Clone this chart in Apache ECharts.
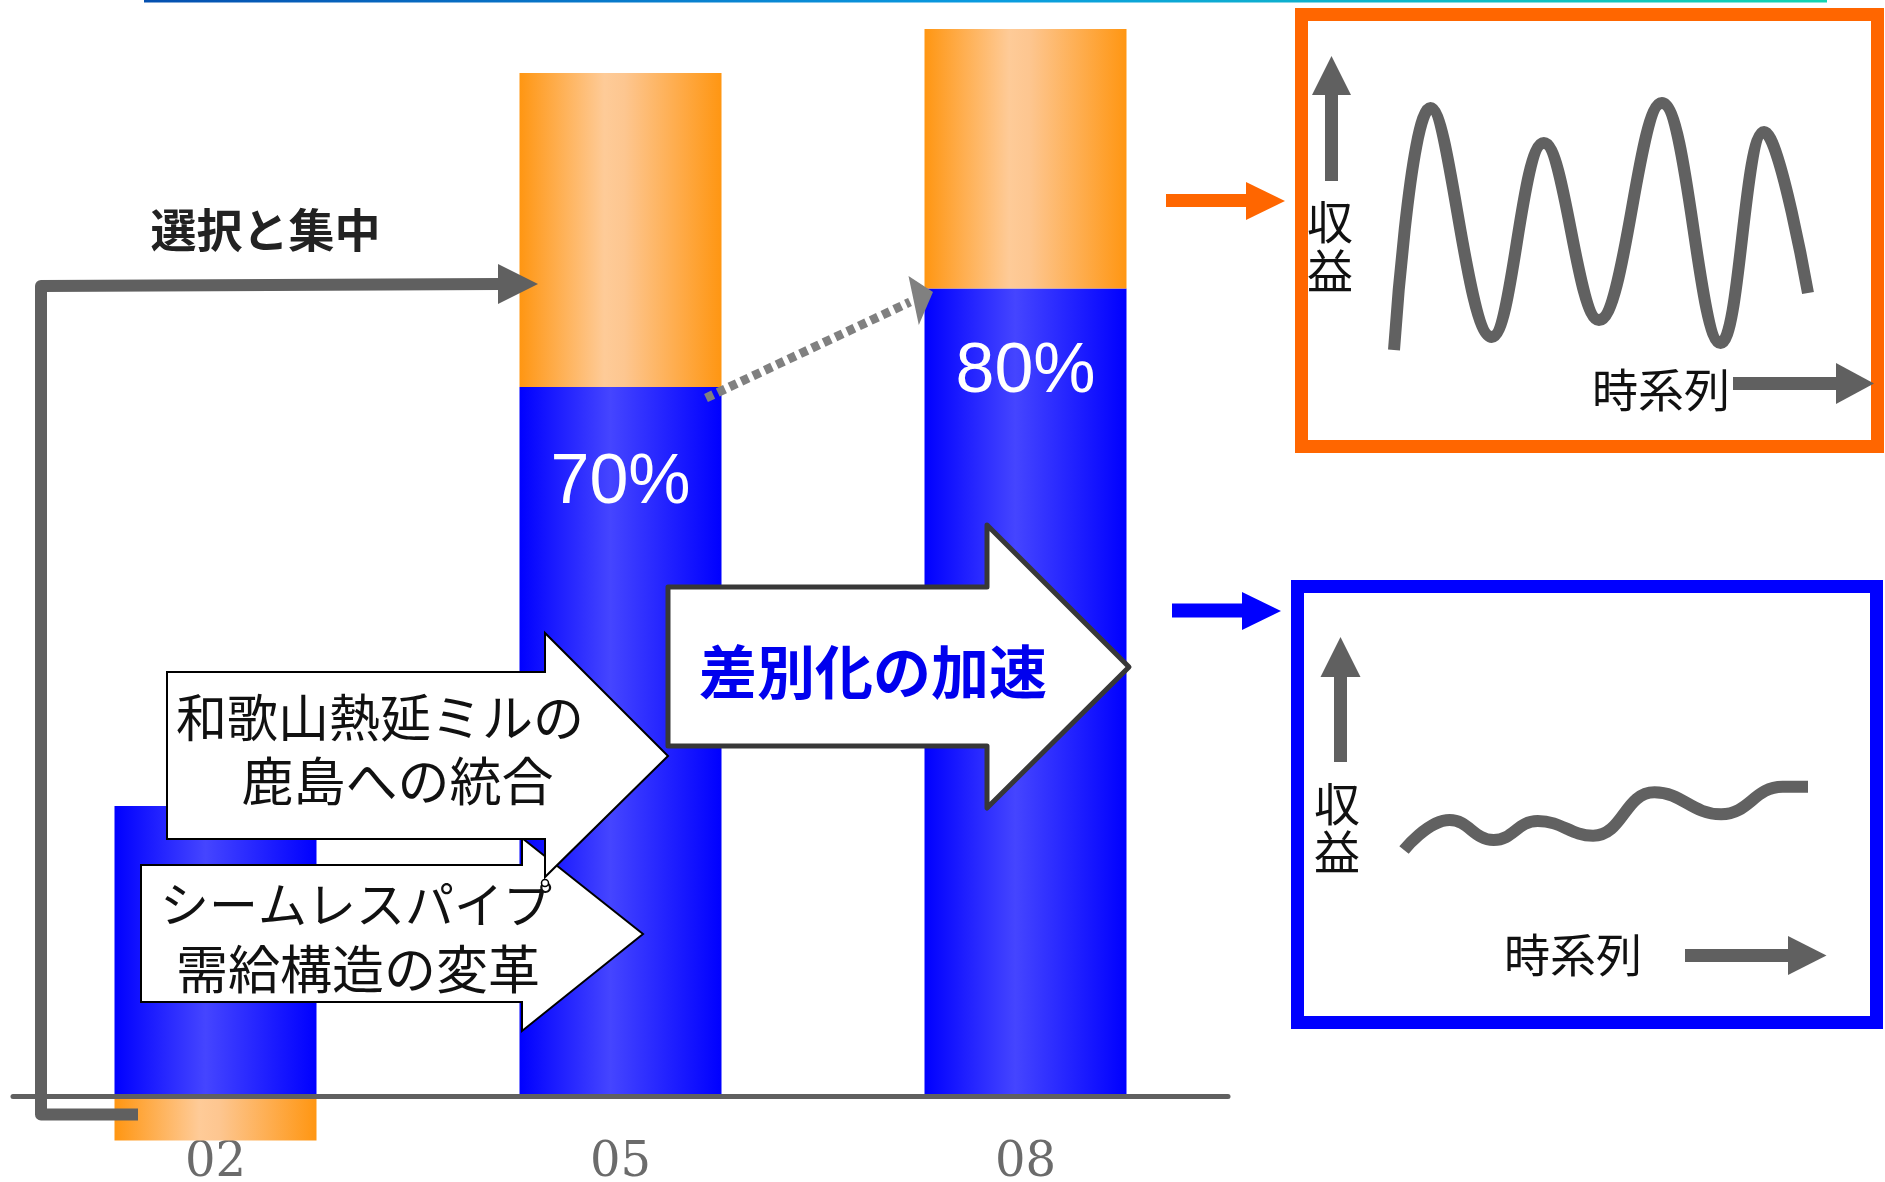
<!DOCTYPE html>
<html><head><meta charset="utf-8">
<script src="https://cdn.jsdelivr.net/npm/echarts/dist/echarts.min.js"></script>
<style>html,body{margin:0;padding:0;background:#fff}#c{width:1885px;height:1182px}</style>
</head><body><div id="c"></div>
<script>
// ---- data ----
const categories = ['02', '05', '08'];
const blueShare = [29.0, 70.9, 80.75];
const orangeShare = [-4.45, 31.4, 25.95];
const pctLabels = ['', '70%', '80%'];
// volatile profit over time (top panel), [time, profit]
const volatileProfit = [[0,0],[8.8,98.0],[23.6,5.3],[36.2,83.8],[49.5,12.1],[64.7,100],[78.9,2.8],[89.4,88.3],[100,23.1]];
// stable profit over time (bottom panel)
const stableProfit = [[0,0],[11.3,46.9],[22.2,15.6],[33.1,45.3],[46.8,22.3],[62.0,90.2],[78.5,55.8],[93.7,98.9],[100,98.9]];

// ---- chart ----
const chart = echarts.init(document.getElementById('c'), null, {renderer: 'canvas'});
const G = echarts.graphic.LinearGradient;
const blueGrad = new G(0,0,1,0,[{offset:0,color:'#0000ff'},{offset:0.45,color:'#4545ff'},{offset:1,color:'#0000ff'}]);
const orangeGrad = new G(0,0,1,0,[{offset:0,color:'#ff9612'},{offset:0.42,color:'#fecb98'},{offset:0.52,color:'#fdc690'},{offset:1,color:'#ff9612'}]);
const labelOffsets = [0, 97, 84];

const CJK = '"Noto Sans CJK JP", sans-serif';
function txt(t, x, y, size, opts) {
  opts = opts || {};
  return {type:'text', x:x, y:y, z:20, style:{text:t, fontSize:size, fontFamily:CJK, fontWeight:opts.bold?'bold':'normal',
    fill:opts.color||'#111', align:'center', verticalAlign:'middle', textAlign:'center', textVerticalAlign:'middle'}};
}
function poly(pts, fill, stroke, lw, extra) {
  return Object.assign({type:'polygon', z:20, shape:{points:pts}, style:{fill:fill, stroke:stroke||null, lineWidth:lw||0, lineJoin:'miter'}}, extra||{});
}
function rect(x,y,w,h,fill){ return {type:'rect', z:20, shape:{x:x,y:y,width:w,height:h}, style:{fill:fill}}; }

const graphics = [
  rect(144, 0, 1683, 2.5, new G(0,0,1,0,[{offset:0,color:'#0550b0'},{offset:0.5,color:'#0a9be0'},{offset:1,color:'#14d4b0'}])),
  {type:'polyline', z:20, shape:{points:[[138,1114.5],[41,1114.5],[41,286],[500,284]]}, style:{stroke:'#606060', lineWidth:12, lineJoin:'round', fill:null}},
  poly([[498,264],[538,284],[498,304]], '#606060'),
  {type:'line', z:20, shape:{x1:706,y1:398,x2:910,y2:302}, style:{stroke:'#808080', lineWidth:9, lineDash:[8,5]}},
  poly([[908.5,276],[933,292],[918.8,325]], '#808080'),
  poly([[141,865],[522,865],[522,838],[643,934],[522,1031],[522,1002],[141,1002]], '#ffffff', '#000', 2),
  txt('シームレスパイプ', 356, 904, 49),
  txt('需給構造の変革', 358, 969, 52),
  poly([[167,672],[545,672],[545,633],[668,756],[545,877],[545,839],[167,839]], '#ffffff', '#000', 2),
  txt('和歌山熱延ミルの', 380, 718, 51),
  txt('鹿島への統合', 397.5, 781, 52),
  {type:'circle', z:20, shape:{cx:545, cy:883, r:3.5}, style:{fill:'#fff', stroke:'#000', lineWidth:1.5}},
  poly([[668,587],[987,587],[987,525],[1129,667],[987,808],[987,746],[668,746]], '#ffffff', '#383838', 5, {style:{fill:'#fff', stroke:'#383838', lineWidth:5, lineJoin:'round'}}),
  txt('差別化の加速', 873, 672, 58, {bold:true, color:'#0000ee'}),
  txt('選択と集中', 265.5, 230, 46, {bold:true, color:'#222'}),
  rect(1166, 194, 80, 13, '#ff6600'),
  poly([[1246,182],[1285,201],[1246,220]], '#ff6600'),
  rect(1172, 603.5, 70, 14, '#0000ff'),
  poly([[1242,592],[1281,611],[1242,630]], '#0000ff'),
  {type:'rect', z:20, shape:{x:1301.5,y:14.5,width:576,height:432}, style:{fill:null, stroke:'#ff6600', lineWidth:13}},
  rect(1325, 94, 13, 87, '#606060'),
  poly([[1312,95],[1331.5,56],[1351,95]], '#606060'),
  txt('収', 1330, 222, 46),
  txt('益', 1330, 271, 46),
  txt('時系列', 1661, 390, 46),
  rect(1733, 377, 104, 13, '#606060'),
  poly([[1836,363],[1874,383.5],[1836,404]], '#606060'),
  {type:'rect', z:20, shape:{x:1297.5,y:586.5,width:579,height:436}, style:{fill:null, stroke:'#0000ff', lineWidth:13}},
  rect(1334, 676, 13, 86, '#606060'),
  poly([[1320.5,677],[1340.5,637],[1360.5,677]], '#606060'),
  txt('収', 1337, 804, 46),
  txt('益', 1337, 852, 46),
  txt('時系列', 1573, 955, 46),
  rect(1685, 949, 104, 13, '#606060'),
  poly([[1788,936],[1826.5,955.5],[1788,975]], '#606060')
];

const option = {
  animation: false,
  backgroundColor: '#ffffff',
  grid: [
    {left: 13, top: 16, width: 1215, height: 1130, outerBoundsMode: 'none', containLabel: false},
    {left: 1394, top: 103, width: 414, height: 247, outerBoundsMode: 'none', containLabel: false},
    {left: 1404, top: 786, width: 404, height: 64, outerBoundsMode: 'none', containLabel: false}
  ],
  xAxis: [
    {type: 'category', gridIndex: 0, data: categories, z: 5,
     axisLine: {onZero: true, lineStyle: {color: '#606060', width: 5}},
     axisTick: {show: false}, axisLabel: {show: false}, splitLine: {show: false}},
    {type: 'value', gridIndex: 1, min: 0, max: 100, show: false},
    {type: 'value', gridIndex: 2, min: 0, max: 100, show: false},
    {type: 'category', gridIndex: 0, data: categories, position: 'bottom',
     axisLine: {show: false, onZero: false}, axisTick: {show: false}, splitLine: {show: false},
     axisLabel: {show: true, color: '#6b6b6b', fontFamily: '"DejaVu Serif", serif', fontSize: 48,
                 lineHeight: 40, verticalAlign: 'middle', margin: 18}}
  ],
  yAxis: [
    {type: 'value', gridIndex: 0, min: -5, max: 108, show: false},
    {type: 'value', gridIndex: 1, min: 0, max: 100, show: false},
    {type: 'value', gridIndex: 2, min: 0, max: 100, show: false}
  ],
  series: [
    {type: 'bar', name: 'blue', stack: 's', barWidth: 202, xAxisIndex: 0, yAxisIndex: 0,
     itemStyle: {color: blueGrad},
     data: blueShare.map((v, i) => ({value: v, label: {show: !!pctLabels[i], formatter: pctLabels[i],
        position: ['50%', labelOffsets[i]], align: 'center', verticalAlign: 'middle',
        color: '#ffffff', fontSize: 70, fontFamily: '"Liberation Sans", Arial, sans-serif'}}))},
    {type: 'bar', name: 'orange', stack: 's', barWidth: 202, xAxisIndex: 0, yAxisIndex: 0,
     itemStyle: {color: orangeGrad}, data: orangeShare},
    {type: 'line', xAxisIndex: 1, yAxisIndex: 1, data: volatileProfit, symbol: 'none', smooth: 0.4,
     lineStyle: {color: '#616161', width: 12, cap: 'butt'}},
    {type: 'line', xAxisIndex: 2, yAxisIndex: 2, data: stableProfit, symbol: 'none', smooth: 0.45,
     lineStyle: {color: '#616161', width: 12, cap: 'butt'}}
  ],
  graphic: {elements: graphics}
};
chart.setOption(option);
</script></body></html>
